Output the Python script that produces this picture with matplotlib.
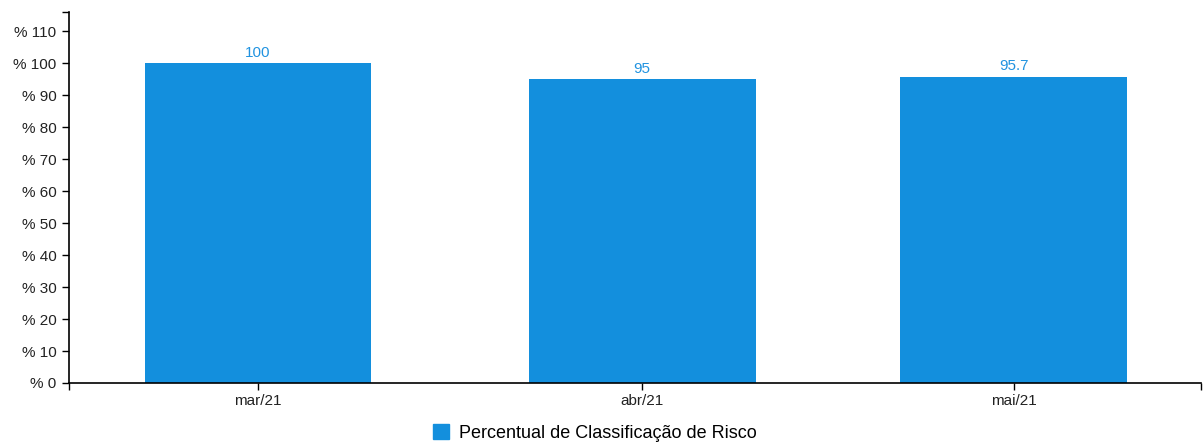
import datetime as dt

import matplotlib
matplotlib.use("Agg")
import matplotlib.dates as mdates
import matplotlib.pyplot as plt
from matplotlib.patches import Patch

months = ["mar/21", "abr/21", "mai/21"]
month_starts = [dt.date(2021, 3, 1), dt.date(2021, 4, 1), dt.date(2021, 5, 1)]
values = [100, 95, 95.7]
value_labels = ["100", "95", "95.7"]
y_ticks = list(range(0, 111, 10))
series_name = "Percentual de Classificação de Risco"

bar_color = "#138fdd"
label_color = "#2193e0"

plt.rcParams["font.family"] = ["Liberation Sans", "DejaVu Sans"]

fig = plt.figure(figsize=(12.03, 4.45), dpi=100)
W, H = 1203, 445
ax = fig.add_axes([69 / W, (H - 383) / H, (1201 - 69) / W, (383 - 12) / H])

x = mdates.date2num(month_starts)
ax.bar(x, values, width=18.3, color=bar_color)

for xi, v, lab in zip(x, values, value_labels):
    ax.annotate(lab, (xi, v), xytext=(0, 2.5), textcoords="offset points",
                ha="center", va="bottom", color=label_color, fontsize=11)

ax.set_xlim(x[0] - 15.25, x[-1] + 15.1)
ax.set_ylim(0, 116)

ax.set_xticks(x)
ax.set_xticklabels(months)
ax.set_xticks([x[0] - 15.25, x[-1] + 15.1], minor=True)
ax.set_yticks(y_ticks)
ax.set_yticklabels(["% {}".format(t) for t in y_ticks])
ax.set_yticks([116], minor=True)

ax.tick_params(axis="both", which="both", length=5, width=1, color="black",
               labelsize=11, labelcolor="#222222")
ax.tick_params(axis="x", which="major", pad=3)
ax.tick_params(axis="y", which="major", pad=4)

for s in ["top", "right"]:
    ax.spines[s].set_visible(False)
for s in ["left", "bottom"]:
    ax.spines[s].set_linewidth(1.2)

fig.legend(handles=[Patch(color=bar_color, label=series_name)],
           loc="center", bbox_to_anchor=(595 / W, (H - 433) / H),
           frameon=False, fontsize=13, handlelength=0.9, handleheight=0.9,
           handletextpad=0.55, borderpad=0)

fig.savefig("out.png", dpi=100)
